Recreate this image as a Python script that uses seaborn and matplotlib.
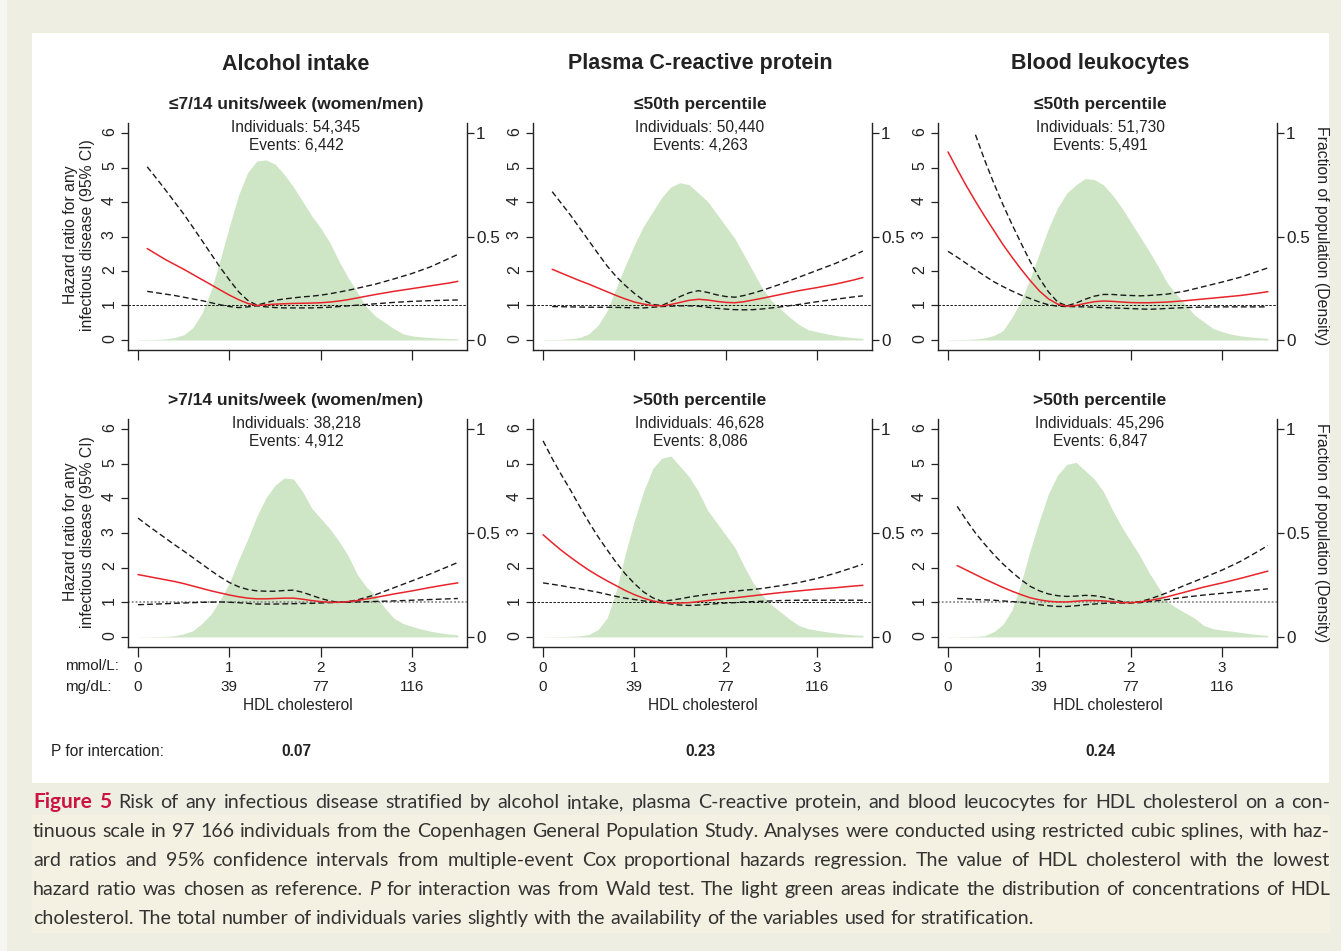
import numpy as np
import pandas as pd
import matplotlib
matplotlib.use("Agg")
import matplotlib.pyplot as plt
from matplotlib.patches import Rectangle
import seaborn as sns

nan = np.nan

# ---------------------------------------------------------------- data
COLUMN_TITLES = ["Alcohol intake", "Plasma C-reactive protein", "Blood leukocytes"]
SUBTITLES_LOW = ["\u22647/14 units/week (women/men)", "\u226450th percentile", "\u226450th percentile"]
SUBTITLES_HIGH = [">7/14 units/week (women/men)", ">50th percentile", ">50th percentile"]
INDIVIDUALS_LOW = ["54,345", "50,440", "51,730"]
INDIVIDUALS_HIGH = ["38,218", "46,628", "45,296"]
EVENTS_LOW = ["6,442", "4,263", "5,491"]
EVENTS_HIGH = ["4,912", "8,086", "6,847"]
P_INTERACTION = ["0.07", "0.23", "0.24"]

X_TICKS_MMOL = [0, 1, 2, 3]
X_TICKS_MGDL = ["0", "39", "77", "116"]
Y_TICKS_HR = [0, 1, 2, 3, 4, 5, 6]
Y_TICKS_DENS = [0, 0.5, 1]
Y_TICKLABELS_DENS = ["0", "0.5", "1"]

# HDL cholesterol (mmol/L) at which the spline curves are given
CURVE_X = [0.0, 0.1, 0.2, 0.3, 0.4, 0.5, 0.6, 0.7, 0.8, 0.9,
           1.0, 1.1, 1.2, 1.3, 1.4, 1.5, 1.6, 1.7, 1.8, 1.9,
           2.0, 2.1, 2.2, 2.3, 2.4, 2.6, 2.8, 3.0, 3.2, 3.4, 3.5]

# Alcohol intake, low
HR_ALC_LOW = [nan, 2.65, 2.49, 2.33, 2.19, 2.05, 1.90, 1.75, 1.60, 1.45,
              1.30, 1.17, 1.06, 1.00, 1.02, 1.04, 1.05, 1.06, 1.065, 1.07,
              1.08, 1.10, 1.13, 1.17, 1.22, 1.32, 1.41, 1.49, 1.57, 1.65, 1.70]
UCI_ALC_LOW = [nan, 5.02, 4.69, 4.35, 4.00, 3.65, 3.27, 2.88, 2.49, 2.10,
               1.74, 1.40, 1.15, 1.01, 1.08, 1.15, 1.19, 1.22, 1.25, 1.27,
               1.30, 1.34, 1.39, 1.44, 1.50, 1.62, 1.77, 1.93, 2.12, 2.36, 2.48]
LCI_ALC_LOW = [nan, 1.41, 1.37, 1.33, 1.29, 1.24, 1.19, 1.14, 1.08, 1.02,
               0.97, 0.94, 0.96, 0.99, 0.96, 0.94, 0.93, 0.93, 0.93, 0.93,
               0.94, 0.95, 0.97, 0.99, 1.01, 1.05, 1.09, 1.12, 1.14, 1.155, 1.16]
# Alcohol intake, high
HR_ALC_HIGH = [1.80, 1.75, 1.70, 1.65, 1.60, 1.54, 1.47, 1.40, 1.33, 1.27,
               1.21, 1.16, 1.12, 1.10, 1.10, 1.11, 1.12, 1.12, 1.09, 1.05,
               1.02, 1.00, 1.00, 1.02, 1.05, 1.14, 1.24, 1.33, 1.43, 1.52, 1.56]
UCI_ALC_HIGH = [3.43, 3.23, 3.04, 2.85, 2.66, 2.48, 2.29, 2.10, 1.91, 1.73,
                1.57, 1.45, 1.37, 1.33, 1.32, 1.32, 1.34, 1.35, 1.29, 1.20,
                1.11, 1.04, 1.00, 1.02, 1.07, 1.22, 1.42, 1.62, 1.82, 2.04, 2.15]
LCI_ALC_HIGH = [0.93, 0.94, 0.95, 0.96, 0.97, 0.98, 0.99, 1.00, 1.005, 1.01,
                1.00, 0.99, 0.97, 0.95, 0.95, 0.95, 0.955, 0.96, 0.965, 0.97,
                0.98, 0.99, 1.00, 1.00, 1.01, 1.025, 1.04, 1.06, 1.08, 1.10, 1.11]
# Plasma CRP, low
HR_CRP_LOW = [nan, 2.05, 1.94, 1.83, 1.72, 1.62, 1.51, 1.40, 1.29, 1.19,
              1.10, 1.04, 1.00, 0.99, 1.03, 1.09, 1.15, 1.18, 1.16, 1.12,
              1.09, 1.08, 1.11, 1.16, 1.21, 1.32, 1.43, 1.52, 1.62, 1.74, 1.81]
UCI_CRP_LOW = [nan, 4.30, 3.96, 3.62, 3.25, 2.88, 2.51, 2.15, 1.84, 1.58,
               1.35, 1.15, 1.03, 1.00, 1.12, 1.26, 1.37, 1.43, 1.38, 1.31,
               1.26, 1.24, 1.29, 1.36, 1.44, 1.62, 1.82, 2.02, 2.22, 2.45, 2.58]
LCI_CRP_LOW = [nan, 0.97, 0.965, 0.96, 0.955, 0.95, 0.95, 0.95, 0.945, 0.94,
               0.935, 0.93, 0.95, 0.97, 0.98, 0.99, 0.99, 0.98, 0.95, 0.92,
               0.895, 0.88, 0.875, 0.88, 0.90, 0.96, 1.03, 1.11, 1.18, 1.25, 1.28]
# Plasma CRP, high
HR_CRP_HIGH = [2.95, 2.72, 2.50, 2.30, 2.11, 1.93, 1.77, 1.62, 1.48, 1.34,
               1.22, 1.12, 1.04, 0.99, 0.98, 0.98, 0.99, 1.02, 1.05, 1.08,
               1.11, 1.13, 1.16, 1.19, 1.22, 1.28, 1.33, 1.38, 1.42, 1.47, 1.49]
UCI_CRP_HIGH = [5.66, 5.15, 4.68, 4.24, 3.77, 3.32, 2.90, 2.52, 2.15, 1.82,
                1.54, 1.30, 1.13, 1.03, 1.06, 1.10, 1.15, 1.19, 1.23, 1.26,
                1.29, 1.32, 1.35, 1.37, 1.40, 1.48, 1.57, 1.69, 1.84, 2.01, 2.10]
LCI_CRP_HIGH = [1.56, 1.52, 1.48, 1.43, 1.39, 1.34, 1.29, 1.23, 1.17, 1.12,
                1.08, 1.04, 1.01, 0.99, 0.95, 0.92, 0.91, 0.92, 0.94, 0.96,
                0.98, 0.99, 1.01, 1.02, 1.03, 1.05, 1.06, 1.06, 1.06, 1.06, 1.06]
# Blood leukocytes, low
HR_LEU_LOW = [5.45, 4.95, 4.47, 4.02, 3.59, 3.18, 2.77, 2.40, 2.05, 1.72,
              1.42, 1.19, 1.04, 0.98, 1.00, 1.06, 1.11, 1.13, 1.12, 1.10,
              1.085, 1.08, 1.08, 1.09, 1.10, 1.14, 1.19, 1.24, 1.29, 1.36, 1.40]
UCI_LEU_LOW = [nan, nan, nan, 5.95, 5.22, 4.55, 3.93, 3.35, 2.80, 2.27,
               1.79, 1.39, 1.10, 0.99, 1.07, 1.18, 1.27, 1.32, 1.32, 1.30,
               1.29, 1.28, 1.29, 1.31, 1.33, 1.42, 1.55, 1.68, 1.82, 2.00, 2.09]
LCI_LEU_LOW = [2.57, 2.40, 2.22, 2.04, 1.86, 1.69, 1.55, 1.42, 1.30, 1.20,
               1.10, 1.02, 0.98, 0.97, 0.965, 0.96, 0.95, 0.94, 0.93, 0.92,
               0.91, 0.90, 0.89, 0.90, 0.915, 0.94, 0.955, 0.96, 0.96, 0.96, 0.96]
# Blood leukocytes, high
HR_LEU_HIGH = [nan, 2.06, 1.93, 1.80, 1.67, 1.55, 1.43, 1.32, 1.22, 1.13,
               1.07, 1.03, 1.01, 1.01, 1.03, 1.05, 1.05, 1.04, 1.02, 0.99,
               0.99, 1.01, 1.05, 1.10, 1.16, 1.30, 1.44, 1.56, 1.69, 1.83, 1.90]
UCI_LEU_HIGH = [nan, 3.77, 3.37, 3.00, 2.68, 2.38, 2.11, 1.87, 1.65, 1.46,
                1.33, 1.24, 1.19, 1.17, 1.18, 1.20, 1.19, 1.15, 1.09, 1.02,
                0.99, 1.02, 1.09, 1.18, 1.28, 1.50, 1.71, 1.93, 2.18, 2.48, 2.64]
LCI_LEU_HIGH = [nan, 1.11, 1.10, 1.08, 1.07, 1.06, 1.04, 1.02, 1.00, 0.97,
                0.93, 0.90, 0.88, 0.88, 0.90, 0.93, 0.95, 0.97, 0.98, 0.98,
                0.98, 0.99, 1.02, 1.05, 1.08, 1.15, 1.21, 1.26, 1.31, 1.36, 1.39]

# fraction of population (density) of HDL cholesterol, 0.0 to 3.5 mmol/L
DENS_X = [round(0.1 * i, 1) for i in range(36)]
DENS_ALC_LOW = [0.002, 0.002, 0.003, 0.005, 0.012, 0.025, 0.06, 0.13, 0.24, 0.39,
                0.55, 0.70, 0.81, 0.865, 0.87, 0.85, 0.80, 0.74, 0.67, 0.60,
                0.54, 0.47, 0.38, 0.30, 0.23, 0.16, 0.115, 0.085, 0.055, 0.03,
                0.02, 0.015, 0.012, 0.009, 0.007, 0.006]
DENS_ALC_HIGH = [0.001, 0.001, 0.002, 0.003, 0.006, 0.015, 0.03, 0.065, 0.11, 0.18,
                 0.26, 0.37, 0.47, 0.58, 0.67, 0.73, 0.765, 0.76, 0.70, 0.62,
                 0.57, 0.52, 0.46, 0.39, 0.30, 0.24, 0.20, 0.14, 0.09, 0.065,
                 0.05, 0.038, 0.028, 0.02, 0.014, 0.01]
DENS_CRP_LOW = [0.002, 0.002, 0.003, 0.006, 0.012, 0.03, 0.07, 0.14, 0.25, 0.36,
                0.46, 0.55, 0.62, 0.69, 0.74, 0.76, 0.75, 0.71, 0.67, 0.61,
                0.55, 0.49, 0.41, 0.33, 0.25, 0.19, 0.15, 0.11, 0.075, 0.05,
                0.04, 0.03, 0.022, 0.016, 0.011, 0.008]
DENS_CRP_HIGH = [0.001, 0.001, 0.002, 0.003, 0.005, 0.012, 0.035, 0.09, 0.22, 0.40,
                 0.56, 0.70, 0.81, 0.86, 0.87, 0.82, 0.77, 0.70, 0.61, 0.55,
                 0.49, 0.43, 0.34, 0.26, 0.20, 0.155, 0.12, 0.085, 0.055, 0.04,
                 0.032, 0.025, 0.019, 0.014, 0.01, 0.008]
DENS_LEU_LOW = [0.002, 0.002, 0.003, 0.005, 0.01, 0.022, 0.045, 0.11, 0.19, 0.30,
                0.42, 0.54, 0.64, 0.71, 0.75, 0.78, 0.775, 0.75, 0.70, 0.64,
                0.57, 0.50, 0.43, 0.355, 0.275, 0.22, 0.17, 0.12, 0.088, 0.056,
                0.04, 0.028, 0.02, 0.015, 0.011, 0.008]
DENS_LEU_HIGH = [0.001, 0.001, 0.002, 0.003, 0.006, 0.025, 0.06, 0.13, 0.26, 0.42,
                 0.56, 0.69, 0.78, 0.83, 0.84, 0.80, 0.76, 0.70, 0.61, 0.53,
                 0.46, 0.39, 0.31, 0.24, 0.17, 0.14, 0.115, 0.09, 0.055, 0.04,
                 0.033, 0.028, 0.022, 0.016, 0.011, 0.007]

CAPTION_LINES = [
    "Risk of any infectious disease stratified by alcohol intake, plasma C-reactive protein, and blood leucocytes for HDL cholesterol on a con-",
    "tinuous scale in 97 166 individuals from the Copenhagen General Population Study. Analyses were conducted using restricted cubic splines, with haz-",
    "ard ratios and 95% confidence intervals from multiple-event Cox proportional hazards regression. The value of HDL cholesterol with the lowest",
    "hazard ratio was chosen as reference. *P* for interaction was from Wald test. The light green areas indicate the distribution of concentrations of HDL",
    "cholesterol. The total number of individuals varies slightly with the availability of the variables used for stratification.",
]

# ---------------------------------------------------------------- style
sns.set_style("ticks")
plt.rcParams["font.family"] = ["Liberation Sans", "DejaVu Sans"]
plt.rcParams["axes.linewidth"] = 1.0

W, H = 1341, 951
fig = plt.figure(figsize=(W / 100, H / 100), dpi=100, facecolor="#eeeee3")


def fx(px):
    return px / W


def fy(py):
    return 1 - py / H


def page_rect(x0, y0, x1, y1, color):
    fig.patches.append(Rectangle((fx(x0), fy(y1)), fx(x1) - fx(x0), fy(y0) - fy(y1),
                                 transform=fig.transFigure, facecolor=color,
                                 edgecolor="none", zorder=-10))


page_rect(0, 0, 7, H, "#f5f5f1")
page_rect(32, 33, 1329, 783, "white")
page_rect(32, 815, 1330, 933, "#f4f1e2")

TEXT = "#222222"
RED = "#e8242b"
GREEN = "#cfe6c6"

panels = [
    [(HR_ALC_LOW, UCI_ALC_LOW, LCI_ALC_LOW, DENS_ALC_LOW),
     (HR_CRP_LOW, UCI_CRP_LOW, LCI_CRP_LOW, DENS_CRP_LOW),
     (HR_LEU_LOW, UCI_LEU_LOW, LCI_LEU_LOW, DENS_LEU_LOW)],
    [(HR_ALC_HIGH, UCI_ALC_HIGH, LCI_ALC_HIGH, DENS_ALC_HIGH),
     (HR_CRP_HIGH, UCI_CRP_HIGH, LCI_CRP_HIGH, DENS_CRP_HIGH),
     (HR_LEU_HIGH, UCI_LEU_HIGH, LCI_LEU_HIGH, DENS_LEU_HIGH)],
]
subtitles = [SUBTITLES_LOW, SUBTITLES_HIGH]
individuals = [INDIVIDUALS_LOW, INDIVIDUALS_HIGH]
events = [EVENTS_LOW, EVENTS_HIGH]

COL_LEFT = [128, 533, 938]
COL_TEXT_X = [296, 700, 1100]
AX_W = 339
ROW_TOP = [123, 419]
ROW_BOTTOM = [350, 647]

fine_dash = dict(color="#111111", lw=0.7, linestyle=(0, (2.5, 1.6)))
gray_dots = dict(color="#8c8c8c", lw=1.3, linestyle=(0, (1.0, 1.1)))
ref_styles = [[fine_dash, fine_dash, fine_dash], [gray_dots, fine_dash, gray_dots]]

for r in range(2):
    for c in range(3):
        hr, uci, lci, dens = panels[r][c]
        ax = fig.add_axes([fx(COL_LEFT[c]), fy(ROW_BOTTOM[r]), AX_W / W,
                           (ROW_BOTTOM[r] - ROW_TOP[r]) / H])
        tw = ax.twinx()
        ax.set_zorder(tw.get_zorder() + 1)
        ax.patch.set_visible(False)

        # population distribution on the right-hand axis
        tw.fill_between(DENS_X, 0, dens, color=GREEN, lw=0)
        tw.set_ylim(-0.29 / 6, 6.29 / 6)
        tw.set_yticks(Y_TICKS_DENS, labels=Y_TICKLABELS_DENS)
        tw.tick_params(axis="y", direction="out", length=5, width=0.9, pad=1.5,
                       labelsize=12.3, colors=TEXT)
        for s in ("top", "left", "bottom"):
            tw.spines[s].set_visible(False)
        tw.spines["right"].set_color(TEXT)

        # hazard ratio spline with 95% CI
        ax.axhline(1, zorder=1, **ref_styles[r][c])
        df = pd.DataFrame({"x": CURVE_X, "hr": hr, "uci": uci, "lci": lci})
        for col, color, ls, lw in [("lci", "#1a1a1a", (0, (4.2, 2.3)), 1.0),
                                   ("uci", "#1a1a1a", (0, (4.2, 2.3)), 1.0),
                                   ("hr", RED, "-", 1.1)]:
            d = df.dropna(subset=[col])
            sns.lineplot(data=d, x="x", y=col, ax=ax, color=color, linestyle=ls,
                         lw=lw, estimator=None, errorbar=None, zorder=3)
        ax.set_xlabel("")
        ax.set_ylabel("")
        ax.set_xlim(-0.11, 3.60)
        ax.set_ylim(-0.29, 6.29)
        ax.set_yticks(Y_TICKS_HR)
        ax.tick_params(axis="y", direction="out", length=5, width=0.9, pad=3,
                       labelsize=11.5, labelrotation=90, colors=TEXT)
        if r == 1:
            ax.set_xticks(X_TICKS_MMOL,
                          labels=[f"{a}\n{b}" for a, b in zip(X_TICKS_MMOL, X_TICKS_MGDL)],
                          linespacing=1.45)
            ax.tick_params(axis="x", direction="out", length=7, width=0.9, pad=3,
                           labelsize=11, colors=TEXT)
        else:
            ax.set_xticks(X_TICKS_MMOL)
            ax.tick_params(axis="x", direction="out", length=7, width=0.9,
                           labelbottom=False, colors=TEXT)
        ax.spines["top"].set_visible(False)
        ax.spines["right"].set_visible(False)
        for s in ("left", "bottom"):
            ax.spines[s].set_color(TEXT)

        # panel texts
        xt = fx(COL_TEXT_X[c])
        fig.text(xt, fy([104, 400][r]), subtitles[r][c], ha="center", va="center",
                 fontsize=12.5, fontweight="bold", color=TEXT)
        fig.text(xt, fy([127, 423][r]), f"Individuals: {individuals[r][c]}",
                 ha="center", va="center", fontsize=11.2, color=TEXT)
        fig.text(xt, fy([145, 442][r]), f"Events: {events[r][c]}",
                 ha="center", va="center", fontsize=11.2, color=TEXT)
        if r == 1:
            fig.text(fx(COL_LEFT[c] + AX_W / 2), fy(705), "HDL cholesterol",
                     ha="center", va="center", fontsize=11.2, color=TEXT)
        if c == 0:
            fig.text(fx(79), fy([235, 532][r]),
                     "Hazard ratio for any\ninfectious disease (95% CI)",
                     rotation=90, ha="center", va="center", fontsize=11.3,
                     linespacing=1.2, color=TEXT)
        if c == 2:
            fig.text(fx(1322), fy([236, 533][r]), "Fraction of population (Density)",
                     rotation=270, ha="center", va="center", fontsize=11.3, color=TEXT)

for c in range(3):
    fig.text(fx(COL_TEXT_X[c]), fy(64), COLUMN_TITLES[c], ha="center", va="center",
             fontsize=15.5, fontweight="bold", color=TEXT)
    fig.text(fx(COL_TEXT_X[c]), fy(752), P_INTERACTION[c], ha="center", va="center",
             fontsize=11.2, fontweight="bold", color=TEXT)

fig.text(fx(65), fy(666), "mmol/L:", ha="left", va="center", fontsize=11, color=TEXT)
fig.text(fx(65), fy(687), "mg/dL:", ha="left", va="center", fontsize=11, color=TEXT)
fig.text(fx(51), fy(752), "P for intercation:", ha="left", va="center",
         fontsize=11.2, color=TEXT)

# ---------------------------------------------------------------- caption
renderer = fig.canvas.get_renderer()
CAP_FONT = ["Lato", "DejaVu Sans"]
CAP_COLOR = "#333333"
HEAD_COLOR = "#cc1441"
CAP_X0, CAP_X1 = 33, 1330
BASELINES = [808, 837, 866, 895, 924]


def tokens_for(i, size):
    toks = []
    if i == 0:
        head = dict(fontsize=15, fontweight="bold", color=HEAD_COLOR, family=CAP_FONT)
        toks += [("Figure", head), ("5", head)]
    for w in CAPTION_LINES[i].split(" "):
        props = dict(fontsize=size, color=CAP_COLOR, family=CAP_FONT)
        if w.startswith("*") and w.endswith("*"):
            w = w.strip("*")
            props["fontstyle"] = "italic"
        toks.append((w, props))
    return toks


def measure(txt, props):
    t = fig.text(0, 0, txt, **props)
    w = t.get_window_extent(renderer).width
    t.remove()
    return w


def space_width(size):
    p = dict(fontsize=size, family=CAP_FONT)
    return measure("n n", p) - measure("nn", p)


size = 14.3
avail = CAP_X1 - CAP_X0
for _ in range(3):
    sp = space_width(size)
    widest = max(sum(measure(t, p) for t, p in tokens_for(i, size)) +
                 (len(tokens_for(i, size)) - 1) * sp for i in range(4))
    if widest <= avail:
        break
    size *= avail / widest * 0.995

sp = space_width(size)
for i in range(5):
    toks = tokens_for(i, size)
    widths = [measure(t, p) for t, p in toks]
    if i < 4:
        gap = (avail - sum(widths)) / (len(toks) - 1)
    else:
        gap = sp
    x = CAP_X0
    for (t, p), w in zip(toks, widths):
        fig.text(fx(x), fy(BASELINES[i]), t, ha="left", va="baseline", **p)
        x += w + gap

fig.savefig("out.png", dpi=100, facecolor=fig.get_facecolor())
